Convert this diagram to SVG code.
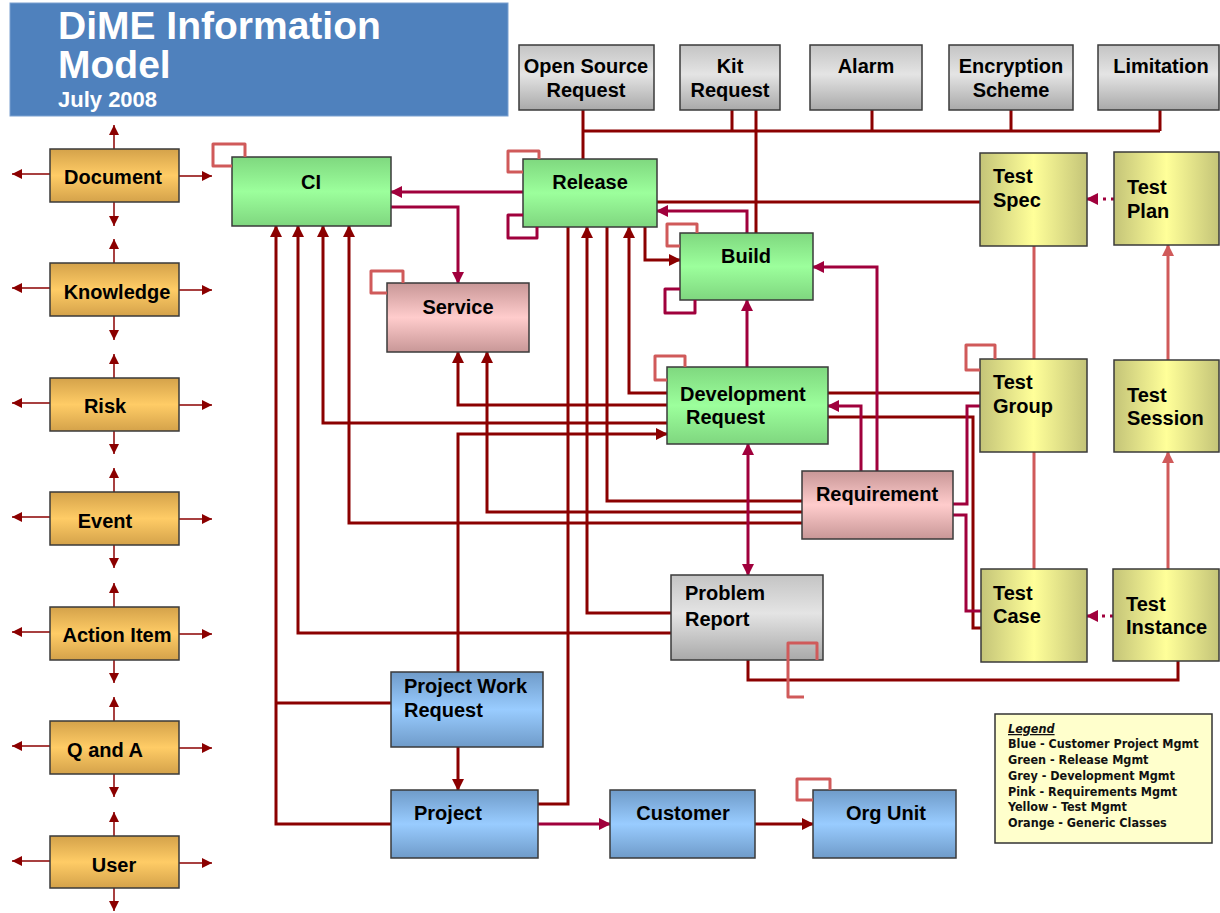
<svg xmlns="http://www.w3.org/2000/svg" width="1220" height="913" viewBox="0 0 1220 913">
  <defs>
    <style>
      .lbl { font-family: "Liberation Sans", Arial, sans-serif; font-weight: bold; font-size: 20px; fill: #000; }
      .mid { text-anchor: middle; }
      .title { font-family: "Liberation Sans", Arial, sans-serif; font-weight: bold; fill: #fff; }
      .box { stroke: #3a3a3a; stroke-width: 1.5; }
      .dk { fill: none; stroke: #8b0000; stroke-width: 3; }
      .cr { fill: none; stroke: #a0003c; stroke-width: 3; }
      .lt { fill: none; stroke: #d05a5a; stroke-width: 3; }
      .loop { stroke-linejoin: round; }
      .dot { stroke-dasharray: 3 5; }
      .stub { fill: none; stroke: #8b0000; stroke-width: 1.5; }
      .leg { font-family: "DejaVu Sans Condensed", "DejaVu Sans", sans-serif; font-weight: bold; font-size: 12.5px; fill: #111; }
    </style>
    <linearGradient id="g-green" x1="0" y1="0" x2="0" y2="1">
      <stop offset="0" stop-color="#7fd87f"/>
      <stop offset="0.5" stop-color="#9cff9c"/>
      <stop offset="1" stop-color="#7fd67f"/>
    </linearGradient>
    <linearGradient id="g-pink" x1="0" y1="0" x2="0" y2="1">
      <stop offset="0" stop-color="#c89797"/>
      <stop offset="0.5" stop-color="#ffcccc"/>
      <stop offset="1" stop-color="#c89797"/>
    </linearGradient>
    <linearGradient id="g-grey" x1="0" y1="0" x2="0" y2="1">
      <stop offset="0" stop-color="#c4c4c4"/>
      <stop offset="0.45" stop-color="#e4e4e4"/>
      <stop offset="1" stop-color="#a9a9a9"/>
    </linearGradient>
    <linearGradient id="g-blue" x1="0" y1="0" x2="0" y2="1">
      <stop offset="0" stop-color="#6f9bc9"/>
      <stop offset="0.5" stop-color="#99ccff"/>
      <stop offset="1" stop-color="#6f9bc9"/>
    </linearGradient>
    <linearGradient id="g-orange" x1="0" y1="0" x2="0" y2="1">
      <stop offset="0" stop-color="#d4a24a"/>
      <stop offset="0.5" stop-color="#ffcc66"/>
      <stop offset="1" stop-color="#d4a24a"/>
    </linearGradient>
    <linearGradient id="g-yellow" x1="0" y1="0" x2="1" y2="0">
      <stop offset="0" stop-color="#c4c478"/>
      <stop offset="0.5" stop-color="#ffff99"/>
      <stop offset="1" stop-color="#c4c478"/>
    </linearGradient>
    <marker id="m-dk" viewBox="0 0 12 12" refX="11" refY="6" markerWidth="12" markerHeight="12" markerUnits="userSpaceOnUse" orient="auto">
      <path d="M0,0 L12,6 L0,12 z" fill="#8b0000"/>
    </marker>
    <marker id="m-cr" viewBox="0 0 12 12" refX="11" refY="6" markerWidth="12" markerHeight="12" markerUnits="userSpaceOnUse" orient="auto-start-reverse">
      <path d="M0,0 L12,6 L0,12 z" fill="#a0003c"/>
    </marker>
    <marker id="m-lt" viewBox="0 0 12 12" refX="11" refY="6" markerWidth="12" markerHeight="12" markerUnits="userSpaceOnUse" orient="auto">
      <path d="M0,0 L12,6 L0,12 z" fill="#d05a5a"/>
    </marker>
    <marker id="m-sm" viewBox="0 0 10 10" refX="10" refY="5" markerWidth="10" markerHeight="10" markerUnits="userSpaceOnUse" orient="auto">
      <path d="M0,0 L10,5 L0,10 z" fill="#8b0000"/>
    </marker>
  </defs>

  <rect width="1220" height="913" fill="#ffffff"/>

  <!-- heading -->
  <g id="title">
    <rect x="10" y="3" width="498" height="113" fill="#4f81bd" stroke="#7aa0d0" stroke-width="1"/>
    <text class="title" x="58" y="39" font-size="39">DiME Information</text>
    <text class="title" x="58" y="78" font-size="39">Model</text>
    <text class="title" x="58" y="107" font-size="22">July 2008</text>
  </g>

  <!-- relationships -->
  <g id="connectors">
    <!-- generic class stubs -->
    <g id="generic-stubs">
      <path class="stub" d="M114,149 V125" marker-end="url(#m-sm)"/>
      <path class="stub" d="M114,202 V226" marker-end="url(#m-sm)"/>
      <path class="stub" d="M50,174 H12" marker-end="url(#m-sm)"/>
      <path class="stub" d="M179,176 H212" marker-end="url(#m-sm)"/>

      <path class="stub" d="M114,263 V239" marker-end="url(#m-sm)"/>
      <path class="stub" d="M114,316 V340" marker-end="url(#m-sm)"/>
      <path class="stub" d="M50,288 H12" marker-end="url(#m-sm)"/>
      <path class="stub" d="M179,290 H212" marker-end="url(#m-sm)"/>

      <path class="stub" d="M114,378 V354" marker-end="url(#m-sm)"/>
      <path class="stub" d="M114,431 V454" marker-end="url(#m-sm)"/>
      <path class="stub" d="M50,403 H12" marker-end="url(#m-sm)"/>
      <path class="stub" d="M179,405 H212" marker-end="url(#m-sm)"/>

      <path class="stub" d="M114,492 V468" marker-end="url(#m-sm)"/>
      <path class="stub" d="M114,545 V568" marker-end="url(#m-sm)"/>
      <path class="stub" d="M50,517 H12" marker-end="url(#m-sm)"/>
      <path class="stub" d="M179,519 H212" marker-end="url(#m-sm)"/>

      <path class="stub" d="M114,607 V583" marker-end="url(#m-sm)"/>
      <path class="stub" d="M114,660 V683" marker-end="url(#m-sm)"/>
      <path class="stub" d="M50,632 H12" marker-end="url(#m-sm)"/>
      <path class="stub" d="M179,634 H212" marker-end="url(#m-sm)"/>

      <path class="stub" d="M114,721 V697" marker-end="url(#m-sm)"/>
      <path class="stub" d="M114,774 V797" marker-end="url(#m-sm)"/>
      <path class="stub" d="M50,746 H12" marker-end="url(#m-sm)"/>
      <path class="stub" d="M179,748 H212" marker-end="url(#m-sm)"/>

      <path class="stub" d="M114,836 V812" marker-end="url(#m-sm)"/>
      <path class="stub" d="M114,888 V911" marker-end="url(#m-sm)"/>
      <path class="stub" d="M50,861 H12" marker-end="url(#m-sm)"/>
      <path class="stub" d="M179,863 H212" marker-end="url(#m-sm)"/>
    </g>

    <!-- release attribute bus -->
    <path class="dk" d="M583,131 H1160 M583,110 V159 M732,110 V131 M756,110 V233 M872,110 V131 M1011,110 V131 M1160,110 V131"/>

    <!-- dark links -->
    <path class="dk" d="M657,202 H980"/>
    <path class="dk" d="M645,227 V260 H680" marker-end="url(#m-dk)"/>
    <path class="dk" d="M391,703 H276"/>
    <path class="dk" d="M391,824 H276 V226" marker-end="url(#m-dk)"/>
    <path class="dk" d="M671,633 H298 V226" marker-end="url(#m-dk)"/>
    <path class="dk" d="M667,423 H323 V226" marker-end="url(#m-dk)"/>
    <path class="dk" d="M802,523 H349 V226" marker-end="url(#m-dk)"/>
    <path class="dk" d="M667,405 H458 V352" marker-end="url(#m-dk)"/>
    <path class="dk" d="M802,512 H487 V352" marker-end="url(#m-dk)"/>
    <path class="dk" d="M458,672 V434 H667" marker-end="url(#m-dk)"/>
    <path class="dk" d="M538,804 H568 V227"/>
    <path class="dk" d="M671,613 H587 V227" marker-end="url(#m-dk)"/>
    <path class="dk" d="M802,501 H607 V227"/>
    <path class="dk" d="M667,393 H629 V227" marker-end="url(#m-dk)"/>
    <path class="dk" d="M828,393 H980"/>
    <path class="dk" d="M828,417 H973 V628 H981"/>
    <path class="dk" d="M748,660 V680 H1178 V661"/>
    <path class="dk" d="M458,747 V790" marker-end="url(#m-dk)"/>
    <path class="dk" d="M755,824 H813" marker-end="url(#m-dk)"/>

    <!-- crimson links -->
    <path class="cr" d="M523,192 H391" marker-end="url(#m-cr)"/>
    <path class="cr" d="M391,207 H458 V283" marker-end="url(#m-cr)"/>
    <path class="cr" d="M747,233 V211 H657" marker-end="url(#m-cr)"/>
    <path class="cr" d="M747,367 V300" marker-end="url(#m-cr)"/>
    <path class="cr" d="M877,471 V267 H813" marker-end="url(#m-cr)"/>
    <path class="cr" d="M861,471 V406 H828" marker-end="url(#m-cr)"/>
    <path class="cr" d="M748,444 V575" marker-start="url(#m-cr)" marker-end="url(#m-cr)"/>
    <path class="cr" d="M980,406 H967 V504 H953"/>
    <path class="cr" d="M953,515 H966 V611 H981"/>
    <path class="cr" d="M538,824 H610" marker-end="url(#m-cr)"/>
    <path class="cr dot" d="M1114,199 H1087" marker-end="url(#m-cr)"/>
    <path class="cr dot" d="M1113,616 H1087" marker-end="url(#m-cr)"/>

    <!-- test management links -->
    <path class="lt" d="M1034,246 V359 M1034,452 V569"/>
    <path class="lt" d="M1168,569 V452" marker-end="url(#m-lt)"/>
    <path class="lt" d="M1168,360 V245" marker-end="url(#m-lt)"/>
  </g>

  <!-- generic classes -->
  <g id="node-document"><rect class="box" x="50" y="149" width="129" height="53" fill="url(#g-orange)"/><text class="lbl mid" x="113" y="184">Document</text></g>
  <g id="node-knowledge"><rect class="box" x="50" y="263" width="129" height="53" fill="url(#g-orange)"/><text class="lbl mid" x="117" y="299">Knowledge</text></g>
  <g id="node-risk"><rect class="box" x="50" y="378" width="129" height="53" fill="url(#g-orange)"/><text class="lbl mid" x="105" y="413">Risk</text></g>
  <g id="node-event"><rect class="box" x="50" y="492" width="129" height="53" fill="url(#g-orange)"/><text class="lbl mid" x="105" y="528">Event</text></g>
  <g id="node-action-item"><rect class="box" x="50" y="607" width="129" height="53" fill="url(#g-orange)"/><text class="lbl mid" x="117" y="642">Action Item</text></g>
  <g id="node-q-and-a"><rect class="box" x="50" y="721" width="129" height="53" fill="url(#g-orange)"/><text class="lbl mid" x="105" y="757">Q and A</text></g>
  <g id="node-user"><rect class="box" x="50" y="836" width="129" height="52" fill="url(#g-orange)"/><text class="lbl mid" x="114" y="872">User</text></g>

  <!-- release management -->
  <g id="node-ci"><rect class="box" x="232" y="157" width="159" height="69" fill="url(#g-green)"/><text class="lbl mid" x="311" y="189">CI</text></g>
  <g id="node-release"><rect class="box" x="523" y="159" width="134" height="68" fill="url(#g-green)"/><text class="lbl mid" x="590" y="189">Release</text></g>
  <g id="node-build"><rect class="box" x="680" y="233" width="133" height="67" fill="url(#g-green)"/><text class="lbl mid" x="746" y="263">Build</text></g>
  <g id="node-development-request"><rect class="box" x="667" y="367" width="161" height="77" fill="url(#g-green)"/><text class="lbl" x="680" y="401">Development</text><text class="lbl" x="686" y="424">Request</text></g>

  <!-- requirements management -->
  <g id="node-service"><rect class="box" x="387" y="283" width="142" height="69" fill="url(#g-pink)"/><text class="lbl mid" x="458" y="314">Service</text></g>
  <g id="node-requirement"><rect class="box" x="802" y="471" width="151" height="68" fill="url(#g-pink)"/><text class="lbl mid" x="877" y="501">Requirement</text></g>

  <!-- development management -->
  <g id="node-open-source-request"><rect class="box" x="519" y="45" width="135" height="65" fill="url(#g-grey)"/><text class="lbl mid" x="586" y="73">Open Source</text><text class="lbl mid" x="586" y="97">Request</text></g>
  <g id="node-kit-request"><rect class="box" x="680" y="45" width="100" height="65" fill="url(#g-grey)"/><text class="lbl mid" x="730" y="73">Kit</text><text class="lbl mid" x="730" y="97">Request</text></g>
  <g id="node-alarm"><rect class="box" x="810" y="45" width="112" height="65" fill="url(#g-grey)"/><text class="lbl mid" x="866" y="73">Alarm</text></g>
  <g id="node-encryption-scheme"><rect class="box" x="949" y="45" width="124" height="65" fill="url(#g-grey)"/><text class="lbl mid" x="1011" y="73">Encryption</text><text class="lbl mid" x="1011" y="97">Scheme</text></g>
  <g id="node-limitation"><rect class="box" x="1098" y="45" width="121" height="65" fill="url(#g-grey)"/><text class="lbl mid" x="1161" y="73">Limitation</text></g>
  <g id="node-problem-report"><rect class="box" x="671" y="575" width="152" height="85" fill="url(#g-grey)"/><text class="lbl" x="685" y="600">Problem</text><text class="lbl" x="685" y="626">Report</text></g>

  <!-- test management -->
  <g id="node-test-spec"><rect class="box" x="980" y="153" width="107" height="93" fill="url(#g-yellow)"/><text class="lbl" x="993" y="183">Test</text><text class="lbl" x="993" y="207">Spec</text></g>
  <g id="node-test-plan"><rect class="box" x="1114" y="152" width="105" height="93" fill="url(#g-yellow)"/><text class="lbl" x="1127" y="194">Test</text><text class="lbl" x="1127" y="218">Plan</text></g>
  <g id="node-test-group"><rect class="box" x="980" y="359" width="107" height="93" fill="url(#g-yellow)"/><text class="lbl" x="993" y="389">Test</text><text class="lbl" x="993" y="413">Group</text></g>
  <g id="node-test-session"><rect class="box" x="1114" y="360" width="105" height="92" fill="url(#g-yellow)"/><text class="lbl" x="1127" y="402">Test</text><text class="lbl" x="1127" y="425">Session</text></g>
  <g id="node-test-case"><rect class="box" x="981" y="569" width="106" height="93" fill="url(#g-yellow)"/><text class="lbl" x="993" y="600">Test</text><text class="lbl" x="993" y="623">Case</text></g>
  <g id="node-test-instance"><rect class="box" x="1113" y="569" width="106" height="92" fill="url(#g-yellow)"/><text class="lbl" x="1126" y="611">Test</text><text class="lbl" x="1126" y="634">Instance</text></g>

  <!-- customer project management -->
  <g id="node-project-work-request"><rect class="box" x="391" y="672" width="152" height="75" fill="url(#g-blue)"/><text class="lbl" x="404" y="693">Project Work</text><text class="lbl" x="404" y="717">Request</text></g>
  <g id="node-project"><rect class="box" x="391" y="790" width="147" height="68" fill="url(#g-blue)"/><text class="lbl" x="414" y="820">Project</text></g>
  <g id="node-customer"><rect class="box" x="610" y="790" width="145" height="68" fill="url(#g-blue)"/><text class="lbl mid" x="683" y="820">Customer</text></g>
  <g id="node-org-unit"><rect class="box" x="813" y="790" width="143" height="68" fill="url(#g-blue)"/><text class="lbl mid" x="886" y="820">Org Unit</text></g>

  <!-- self associations -->
  <g id="self-links">
    <path class="lt loop" d="M245,157 V144 H213 V166 H232"/>
    <path class="lt loop" d="M539,159 V151 H508 V172 H523"/>
    <path class="cr loop" d="M523,215 H508 V238 H537 V227"/>
    <path class="lt loop" d="M403,283 V271 H371 V293 H387"/>
    <path class="lt loop" d="M697,233 V224 H667 V246 H680"/>
    <path class="cr loop" d="M680,289 H665 V313 H695 V300"/>
    <path class="lt loop" d="M685,367 V356 H655 V380 H667"/>
    <path class="lt loop" d="M995,359 V345 H966 V370 H980"/>
    <path class="lt loop" d="M817,660 V643 H788 V697 H804"/>
    <path class="lt loop" d="M830,790 V779 H797 V800 H813"/>
  </g>

  <!-- colour key -->
  <g id="legend">
    <rect x="995" y="714" width="217" height="129" fill="#ffffcc" stroke="#333" stroke-width="1.5"/>
    <text class="leg" x="1008" y="733" font-style="italic" text-decoration="underline">Legend</text>
    <text class="leg" x="1008" y="748">Blue - Customer Project Mgmt</text>
    <text class="leg" x="1008" y="764">Green - Release Mgmt</text>
    <text class="leg" x="1008" y="780">Grey - Development Mgmt</text>
    <text class="leg" x="1008" y="796">Pink - Requirements Mgmt</text>
    <text class="leg" x="1008" y="811">Yellow - Test Mgmt</text>
    <text class="leg" x="1008" y="827">Orange - Generic Classes</text>
  </g>
</svg>
